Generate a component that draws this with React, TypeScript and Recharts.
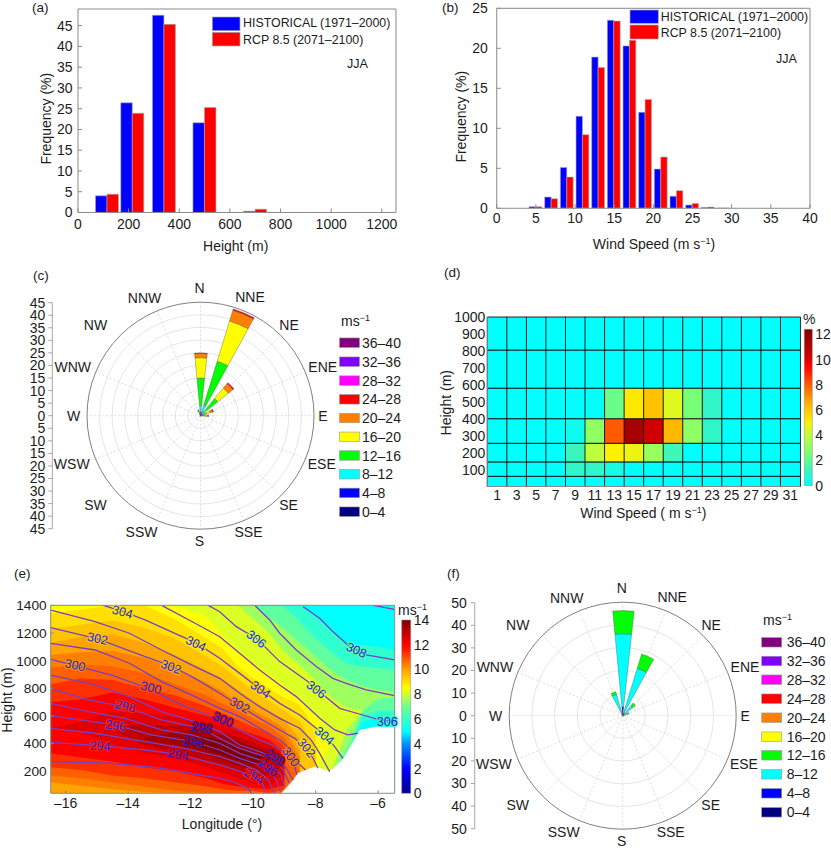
import React from 'react';
import {
  Area, Bar, BarChart, Cell, ComposedChart, Line, PolarAngleAxis, PolarGrid, PolarRadiusAxis,
  RadialBar, RadialBarChart, ReferenceDot, XAxis, YAxis,
} from 'recharts';

const W = 831;
const H = 848;
const FONT = '"Liberation Sans", Arial, sans-serif';
const INK = '#1c1c1c';
const FRAME = '#8a8a8a';
const THIN = 0.01;

// (a) height histogram
const HEIGHT_BINS = [115, 215, 340, 500, 700];
const HEIGHT_HIST = [4.0, 26.4, 47.5, 21.6, 0.3];
const HEIGHT_RCP = [4.4, 23.9, 45.3, 25.3, 0.8];

// (b) wind speed histogram
const SPEED_BINS = [5, 7, 9, 11, 13, 15, 17, 19, 21, 23, 25, 27, 29];
const SPEED_HIST = [0.2, 1.4, 5.1, 11.5, 18.9, 23.5, 20.3, 12.0, 4.9, 1.5, 0.4, 0.1, 0.03];
const SPEED_RCP = [0.2, 1.2, 3.9, 9.2, 17.6, 23.4, 21.0, 13.6, 6.4, 2.2, 0.6, 0.15, 0.03];

// wind roses
const DIRS = ['N', 'NNE', 'NE', 'ENE', 'E', 'ESE', 'SE', 'SSE', 'S', 'SSW', 'SW', 'WSW', 'W', 'WNW', 'NW', 'NNW'];
const DIR_NUDGE_X = [-1, 0.5, -2, 4, -5.5, 3, -2.5, -1, -1, -10, -14.5, -10.5, 1, -9.5, -14.5, -7];
const DIR_NUDGE_Y = [0, 0, 0, 0, 0, -1, -1, -2, -3, -2, -1, -1, 0, 0, 0, 1];
const BIN_COLORS = ['#000080', '#0000ff', '#00ffff', '#00ff00', '#ffff00', '#ff8000', '#ff0000', '#ff00ff', '#8000ff', '#800080'];
const BIN_NAMES = ['0–4', '4–8', '8–12', '12–16', '16–20', '20–24', '24–28', '28–32', '32–36', '36–40'];

const ROSE_C_0 = [0.5, 0.5, 0.3, 0.2, 0.2, 0, 0, 0, 0, 0, 0, 0, 0, 0, 0, 0.2];
const ROSE_C_1 = [1, 1, 0.5, 0.3, 0.2, 0, 0, 0, 0, 0, 0, 0, 0, 0, 0, 0.3];
const ROSE_C_2 = [2.5, 3, 1, 0.6, 0.4, 0, 0, 0, 0, 0, 0, 0, 0, 0, 0, 0.5];
const ROSE_C_3 = [10.9, 18.1, 7, 1.3, 0.8, 0, 0, 0, 0, 0, 0, 0, 0, 0, 0, 0.9];
const ROSE_C_4 = [8.1, 16.7, 5.4, 1.7, 1, 0, 0, 0, 0, 0, 0, 0, 0, 0, 0, 0.4];
const ROSE_C_5 = [1.7, 4.4, 2.3, 1, 0.6, 0, 0, 0, 0, 0, 0, 0, 0, 0, 0, 0];
const ROSE_C_6 = [0.2, 0.6, 0.5, 0.3, 0, 0, 0, 0, 0, 0, 0, 0, 0, 0, 0, 0];

const ROSE_F_0 = [0.8, 0.5, 0.3, 0.3, 0, 0, 0, 0, 0, 0, 0, 0, 0, 0, 0, 0.3];
const ROSE_F_1 = [3.2, 0.8, 0.5, 0.5, 0, 0, 0, 0, 0, 0, 0, 0, 0, 0, 0, 0.7];
const ROSE_F_2 = [32.1, 20.5, 4.8, 1.5, 0, 0, 0, 0, 0, 0, 0, 0, 0, 0, 0, 8.8];
const ROSE_F_3 = [10.2, 6.6, 1.6, 0.7, 0, 0, 0, 0, 0, 0, 0, 0, 0, 0, 0, 1.2];

// (d) heat map: row thickness in metres, bottom row first, and % per speed bin
const HEAT_SPEEDS = [1, 3, 5, 7, 9, 11, 13, 15, 17, 19, 21, 23, 25, 27, 29, 31];
const HEAT_THICK = [60, 85, 110, 145, 180, 225, 195];
const HEAT_R0 = [0, 0, 0, 0, 0, 0, 0, 0, 0, 0, 0, 0, 0, 0, 0, 0];
const HEAT_R1 = [0, 0, 0, 0, 1, 1, 0.5, 0, 0, 0, 0, 0, 0, 0, 0, 0];
const HEAT_R2 = [0, 0, 0, 0, 1.2, 4, 5, 4.7, 3.2, 1.3, 0, 0, 0, 0, 0, 0];
const HEAT_R3 = [0, 0, 0, 0, 0.3, 3, 8, 11.3, 10.2, 6.4, 3, 1, 0, 0, 0, 0];
const HEAT_R4 = [0, 0, 0, 0, 0, 0.1, 2.2, 5.2, 6.2, 4.5, 2.5, 1, 0, 0, 0, 0];
const HEAT_R5 = [0, 0, 0, 0, 0, 0, 0, 0, 0, 0, 0, 0, 0, 0, 0, 0];
const HEAT_R6 = [0, 0, 0, 0, 0, 0, 0, 0, 0, 0, 0, 0, 0, 0, 0, 0];
const HEAT_ROWS = [HEAT_R0, HEAT_R1, HEAT_R2, HEAT_R3, HEAT_R4, HEAT_R5, HEAT_R6];
const HEAT_STOPS: [number, number[]][] = [
  [0, [0, 255, 255]], [1, [48, 245, 200]], [2.5, [120, 255, 120]], [4, [190, 255, 60]], [5, [255, 240, 0]],
  [6.3, [255, 190, 0]], [8, [255, 90, 0]], [9.5, [255, 0, 0]], [10.2, [208, 0, 0]], [12.4, [128, 0, 0]],
];

// (e) filled wind speed bands, [low, high] height at each longitude
const LON = [-16.48, -15.5, -14.5, -13.5, -12.5, -11.5, -11, -10.5, -10, -9.5, -9, -8.5, -8, -7.5, -7, -6.5, -6, -5.47];
const N = null;
const BASE_LO = [41, 41, 41, 41, 41, 41, 41, 41, 41, 41, 41, 41, 41, 41, 41, 41, 41, 41];
const BASE_HI = [1400, 1400, 1400, 1400, 1400, 1400, 1400, 1400, 1400, 1400, 1400, 1400, 1400, 1400, 1400, 1400, 1400, 1400];
const S60_HI = [1400, 1400, 1400, 1400, 1400, 1400, 1400, 1400, 1400, 1400, 1400, 1400, 1320, 1210, 1120, 1110, 1100, 1075];
const S60_LO = [41, 41, 41, 41, 41, 41, 41, 41, 41, 41, 41, 41, 41, 41, 270, 560, 585, 585];
const S70_HI = [1400, 1400, 1400, 1400, 1400, 1400, 1400, 1400, 1400, 1400, 1390, 1280, 1160, 1060, 975, 955, 945, 930];
const S70_LO = [41, 41, 41, 41, 41, 41, 41, 41, 41, 41, 41, 41, 41, 41, 310, 600, 640, 640];
const S77_HI = [1400, 1400, 1400, 1400, 1400, 1400, 1400, 1400, 1400, 1310, 1230, 1130, 1030, 930, 860, 815, 790, 775];
const S77_LO = [41, 41, 41, 41, 41, 41, 41, 41, 41, 41, 41, 41, 41, 180, 370, 640, 720, 735];
const S85_HI = [1400, 1400, 1400, 1400, 1400, 1400, 1400, 1400, 1300, 1200, 1060, 965, 860, 730, 660, 640, N, N];
const S85_LO = [41, 41, 41, 41, 41, 41, 41, 41, 41, 41, 41, 41, 41, 200, 500, 640, N, N];
const S90_HI = [1400, 1400, 1400, 1400, 1400, 1320, 1190, 1080, 990, 900, 820, 730, 620, 430, N, N, N, N];
const S90_LO = [41, 41, 41, 41, 41, 41, 41, 41, 41, 41, 41, 41, 200, 400, N, N, N, N];
const S95_HI = [1340, 1370, 1400, 1400, 1300, 1160, 1090, 960, 870, 800, 730, 680, 500, N, N, N, N, N];
const S95_LO = [41, 41, 41, 41, 41, 41, 41, 41, 41, 41, 41, 41, 230, N, N, N, N, N];
const S100_HI = [1230, 1260, 1290, 1240, 1160, 1030, 960, 870, 780, 710, 640, 560, 350, N, N, N, N, N];
const S100_LO = [41, 41, 41, 41, 41, 41, 41, 41, 41, 41, 41, 41, 240, N, N, N, N, N];
const S105_HI = [1130, 1170, 1190, 1130, 1040, 930, 870, 790, 710, 640, 570, 430, N, N, N, N, N, N];
const S105_LO = [41, 41, 41, 41, 41, 41, 41, 41, 41, 41, 41, 190, N, N, N, N, N, N];
const S110_HI = [1040, 1060, 1070, 1020, 940, 840, 780, 700, 640, 580, 510, 300, N, N, N, N, N, N];
const S110_LO = [120, 95, 70, 50, 41, 41, 41, 41, 41, 41, 41, 180, N, N, N, N, N, N];
const S115_HI = [950, 970, 960, 910, 830, 750, 690, 640, 580, 530, 440, 200, N, N, N, N, N, N];
const S115_LO = [170, 150, 120, 90, 60, 41, 41, 41, 41, 41, 41, 190, N, N, N, N, N, N];
const S120_HI = [830, 870, 860, 800, 750, 670, 620, 570, 520, 480, 380, N, N, N, N, N, N, N];
const S120_LO = [230, 210, 170, 150, 120, 90, 70, 60, 60, 41, 70, N, N, N, N, N, N, N];
const S123_HI = [700, 720, 770, 720, 660, 600, 570, 510, 470, 430, 340, N, N, N, N, N, N, N];
const S123_LO = [330, 300, 270, 230, 200, 150, 110, 90, 80, 70, 100, N, N, N, N, N, N, N];
const S125_HI = [510, 560, 630, 620, 590, 560, 530, 490, 440, 400, 310, N, N, N, N, N, N, N];
const S125_LO = [510, 480, 400, 330, 300, 230, 190, 150, 110, 90, 180, N, N, N, N, N, N, N];
const S130_HI = [N, N, 520, 540, 530, 520, 480, 450, 410, 360, 280, N, N, N, N, N, N, N];
const S130_LO = [N, N, 500, 390, 340, 280, 240, 200, 170, 170, 250, N, N, N, N, N, N, N];
const S135_HI = [N, N, N, 440, 490, 480, 460, 420, 380, 330, N, N, N, N, N, N, N, N];
const S135_LO = [N, N, N, 430, 390, 320, 280, 240, 210, 220, N, N, N, N, N, N, N, N];
const S140_HI = [N, N, N, N, 440, 450, 420, 380, 340, 290, N, N, N, N, N, N, N, N];
const S140_LO = [N, N, N, N, 430, 360, 320, 280, 250, 280, N, N, N, N, N, N, N, N];
const BAND_COLORS = ['#00ffff', '#30ffd0', '#60ffa0', '#a0ff60', '#dcff24', '#ffff00', '#ffe000', '#ffc400', '#ffa400', '#ff8000', '#ff6000', '#ff3000', '#ff0000', '#e00000', '#c00000', '#a00000', '#800000'];
const BAND_LO = [BASE_LO, S60_LO, S70_LO, S77_LO, S85_LO, S90_LO, S95_LO, S100_LO, S105_LO, S110_LO, S115_LO, S120_LO, S123_LO, S125_LO, S130_LO, S135_LO, S140_LO];
const BAND_HI = [BASE_HI, S60_HI, S70_HI, S77_HI, S85_HI, S90_HI, S95_HI, S100_HI, S105_HI, S110_HI, S115_HI, S120_HI, S123_HI, S125_HI, S130_HI, S135_HI, S140_HI];

// terrain mask
const TERRAIN_LON = [-9.09, -8.72, -8.58, -8.03, -7.55, -7.12, -6.59, -6.05, -5.47];
const TERRAIN_H = [45, 137, 186, 234, 198, 289, 499, 523, 516];

// (e) potential temperature contours
const TH293_LON = [-16.48, -14.53, -12.93, -11.07, -10.64, -10.16, -10.06];
const TH293_H = [270, 258, 222, 149, 125, 77, 41];
const TH294_LON = [-16.48, -14.9, -13.46, -12.4, -11.07, -10.54, -9.95, -9.68, -9.58];
const TH294_H = [409, 385, 354, 323, 246, 210, 161, 101, 41];
const TH295_LON = [-16.48, -15.06, -13.46, -12.18, -11.07, -10.43, -9.9, -9.52, -9.31];
const TH295_H = [511, 475, 414, 366, 306, 258, 210, 137, 41];
const TH296_LON = [-16.48, -14.42, -13.25, -11.92, -11.07, -10.43, -9.79, -9.52, -9.26, -9.12];
const TH296_H = [602, 535, 463, 414, 354, 294, 246, 210, 137, 53];
const TH297_LON = [-16.48, -15.28, -14.1, -12.93, -11.97, -11.07, -10.43, -9.79, -9.36, -9.1, -8.99];
const TH297_H = [691, 631, 583, 499, 463, 402, 330, 282, 234, 173, 89];
const TH298_LON = [-16.48, -15.28, -14.1, -12.93, -11.65, -11.07, -10.43, -9.79, -9.31, -9.04, -8.85];
const TH298_H = [800, 716, 667, 571, 511, 438, 366, 318, 282, 210, 118];
const TH299_LON = [-16.48, -15.06, -13.96, -12.93, -11.86, -11.07, -10.43, -9.79, -9.26, -8.94, -8.72];
const TH299_H = [896, 824, 740, 631, 559, 487, 390, 342, 294, 222, 137];
const TH300_LON = [-16.48, -15.7, -14.53, -13.46, -12.4, -11.07, -10.43, -9.79, -9.26, -8.88, -8.67, -8.6];
const TH300_H = [1010, 964, 896, 807, 691, 571, 499, 426, 378, 306, 234, 173];
const TH301_LON = [-16.48, -15.06, -13.96, -12.93, -11.86, -11.07, -10.43, -9.79, -9.15, -8.78, -8.56, -8.32];
const TH301_H = [1125, 1077, 981, 848, 740, 655, 595, 511, 426, 354, 258, 210];
const TH302_LON = [-16.48, -14.98, -13.46, -12.61, -11.86, -11.07, -10.43, -9.79, -9.15, -8.67, -8.3, -8.08, -7.93];
const TH302_H = [1239, 1157, 1029, 961, 872, 764, 672, 583, 499, 438, 366, 294, 222];
const TH303_LON = [-16.48, -15.06, -13.96, -12.93, -11.86, -11.07, -10.43, -9.79, -9.15, -8.51, -8.14, -7.87, -7.55];
const TH303_H = [1366, 1282, 1198, 1077, 957, 872, 764, 667, 583, 511, 426, 330, 197];
const TH304_LON = [-14.8, -14.16, -13.46, -12.4, -11.84, -11.07, -10.43, -9.77, -9.15, -8.51, -7.98, -7.71, -7.39, -7.13];
const TH304_H = [1400, 1354, 1294, 1186, 1130, 1017, 908, 793, 691, 607, 511, 463, 378, 294];
const TH305_LON = [-12.93, -11.86, -11.07, -10.43, -9.79, -9.15, -8.62, -7.87, -7.39, -6.97, -6.65];
const TH305_H = [1400, 1270, 1173, 1053, 932, 824, 740, 583, 499, 463, 475];
const TH306_LON = [-11.44, -11.07, -10.54, -9.9, -9.15, -8.24, -7.98, -7.66, -7.23, -6.49, -5.95, -5.47];
const TH306_H = [1400, 1354, 1246, 1161, 993, 848, 793, 735, 655, 607, 571, 559];
const TH307_LON = [-9.95, -9.47, -9.15, -8.62, -7.98, -7.45, -7.02, -6.38, -5.47];
const TH307_H = [1400, 1294, 1198, 1077, 957, 872, 836, 788, 747];
const TH308_LON = [-8.4, -7.87, -7.45, -6.97, -6.68, -6.38, -5.47];
const TH308_H = [1390, 1306, 1210, 1113, 1077, 1041, 1005];
const TH309_LON = [-6.17, -5.47];
const TH309_H = [1400, 1371];
const TH_LONS = [TH293_LON, TH294_LON, TH295_LON, TH296_LON, TH297_LON, TH298_LON, TH299_LON, TH300_LON, TH301_LON, TH302_LON, TH303_LON, TH304_LON, TH305_LON, TH306_LON, TH307_LON, TH308_LON, TH309_LON];
const TH_HS = [TH293_H, TH294_H, TH295_H, TH296_H, TH297_H, TH298_H, TH299_H, TH300_H, TH301_H, TH302_H, TH303_H, TH304_H, TH305_H, TH306_H, TH307_H, TH308_H, TH309_H];

// (e) contour labels
const CL_TEXT = ['304', '304', '304', '304', '306', '306', '306', '308', '302', '302', '302', '302', '300', '300', '300', '300', '298', '298', '298', '296', '296', '296', '294', '294', '294'];
const CL_LON = [-14.18, -11.83, -9.76, -7.71, -9.89, -7.97, -5.71, -6.69, -14.98, -12.63, -10.43, -8.29, -15.7, -13.27, -10.96, -8.79, -14.09, -11.65, -9.3, -14.4, -11.92, -9.52, -14.9, -12.4, -9.97];
const CL_H = [1354, 1125, 793, 458, 1157, 793, 559, 1077, 1161, 957, 679, 371, 969, 805, 576, 306, 672, 516, 301, 532, 414, 229, 385, 323, 166];
const CL_ROT = [15, 25, 35, 40, 38, 38, 0, 25, 12, 20, 28, 50, 13, 15, 25, 55, 12, 10, 35, 8, 10, 35, 3, 12, 30];
const CL_BG = ['#ffe600', '#ffee00', '#ffd000', '#c8ff30', '#c8ff30', '#c8ff30', '#40f0c0', '#60ffa0', '#ffc800', '#ffb400', '#ff8800', '#ffe000', '#ff9000', '#ff5000', '#d00000', '#ff8000', '#ff2a00', '#900000', '#b00000', '#ff2000', '#900000', '#e00000', '#ff2000', '#e00000', '#ff2000'];

// colour bars
const EBAR_VALUES = [0, 2, 4, 5, 7, 8.5, 10, 11.5, 12, 14];
const EBAR_COLORS = ['#000090', '#0000ff', '#0090ff', '#00ffff', '#70ff90', '#ffff00', '#ffa000', '#ff2000', '#ff0000', '#800000'];

const heightRows = HEIGHT_BINS.map((x, i) => ({ x, hist: HEIGHT_HIST[i], rcp: HEIGHT_RCP[i] }));
const speedRows = SPEED_BINS.map((x, i) => ({ x, hist: SPEED_HIST[i], rcp: SPEED_RCP[i] }));
const roseC = DIRS.map((dir, i) => ({ dir, b0: ROSE_C_0[i], b1: ROSE_C_1[i], b2: ROSE_C_2[i], b3: ROSE_C_3[i], b4: ROSE_C_4[i], b5: ROSE_C_5[i], b6: ROSE_C_6[i] }));
const roseF = DIRS.map((dir, i) => ({ dir, b0: ROSE_F_0[i], b1: ROSE_F_1[i], b2: ROSE_F_2[i], b3: ROSE_F_3[i] }));
const heatRows = HEAT_SPEEDS.map((s) => {
  const row: Record<string, number> = { s };
  HEAT_THICK.forEach((t, k) => { row['r' + k] = t; });
  return row;
});
const bandRows = LON.map((lon, i) => {
  const row: Record<string, unknown> = { lon };
  BAND_LO.forEach((lo, k) => {
    row['b' + k] = lo[i] === null || BAND_HI[k][i] === null ? null : [lo[i], BAND_HI[k][i]];
  });
  return row;
});
const terrainRows = TERRAIN_LON.map((lon, i) => ({ lon, t: [41, TERRAIN_H[i]] }));

function heatColor(v: number) {
  for (let i = 1; i < HEAT_STOPS.length; i++) {
    if (v <= HEAT_STOPS[i][0]) {
      const [a, ca] = HEAT_STOPS[i - 1];
      const [b, cb] = HEAT_STOPS[i];
      const t = (v - a) / (b - a);
      return `rgb(${ca.map((c, k) => Math.round(c + (cb[k] - c) * t)).join(',')})`;
    }
  }
  return 'rgb(128,0,0)';
}

const Txt = ({ x, y, size = 14, rot, anchor = 'start', children }: any) => (
  <text x={x} y={y} fontSize={size} fontFamily={FONT} fill={INK} textAnchor={anchor} transform={rot ? `rotate(${rot} ${x} ${y})` : undefined}>
    {children}
  </text>
);
const Unit = () => (
  <>
    <tspan>ms</tspan>
    <tspan dy={-5} fontSize={9}>−1</tspan>
  </>
);
const layer: React.CSSProperties = { position: 'absolute', left: 0, top: 0 };
const box = (l: number, t: number, r: number, b: number) => ({ left: l, top: t, right: W - r, bottom: H - b });
const tickStyle = (size = 14) => ({ fontSize: size, fontFamily: FONT, fill: INK });
const lineStyle = { stroke: FRAME, strokeWidth: 1 };
const lightLine = { stroke: '#a6a6a6', strokeWidth: 1 };

function frame(xDomain: number[], yDomain: number[], xMinor: number[], yMinor: number[], majorY: number[], majorX: number[]) {
  return [
    <XAxis key="xm" xAxisId="xm" type="number" domain={xDomain} allowDataOverflow ticks={xMinor} interval={0} height={THIN} tick={false} tickSize={-2} tickLine={lineStyle} axisLine={false} />,
    <XAxis key="xt" xAxisId="xt" orientation="top" type="number" domain={xDomain} allowDataOverflow ticks={majorX} interval={0} height={THIN} tick={false} tickSize={-4} tickLine={lineStyle} axisLine={lineStyle} />,
    <YAxis key="ym" yAxisId="ym" type="number" domain={yDomain} allowDataOverflow ticks={yMinor} interval={0} width={THIN} tick={false} tickSize={-2} tickLine={lineStyle} axisLine={false} />,
    <YAxis key="yr" yAxisId="yr" orientation="right" type="number" domain={yDomain} allowDataOverflow ticks={majorY} interval={0} width={THIN} tick={false} tickSize={-4} tickLine={lineStyle} axisLine={lineStyle} />,
    <YAxis key="yrm" yAxisId="yrm" orientation="right" type="number" domain={yDomain} allowDataOverflow ticks={yMinor} interval={0} width={THIN} tick={false} tickSize={-2} tickLine={lineStyle} axisLine={false} />,
  ];
}

function BarLegend({ left, top1, top2, h1, h2, right, base1, base2, textX }: any) {
  return (
    <>
      <rect x={left} y={top1} width={right - left} height={h1} fill="#0000ff" stroke="#aaa" strokeWidth={0.7} />
      <rect x={left} y={top2} width={right - left} height={h2} fill="#ff0000" stroke="#aaa" strokeWidth={0.7} />
      <Txt x={textX} y={base1} size={12.4}>HISTORICAL (1971–2000)</Txt>
      <Txt x={textX} y={base2} size={12.4}>RCP 8.5 (2071–2100)</Txt>
    </>
  );
}

const A_MAJOR_Y = [0, 5, 10, 15, 20, 25, 30, 35, 40, 45];
const A_MINOR_Y = [2.5, 7.5, 12.5, 17.5, 22.5, 27.5, 32.5, 37.5, 42.5, 47.5];
const A_MAJOR_X = [0, 200, 400, 600, 800, 1000, 1200];
const A_MINOR_X = [100, 300, 500, 700, 900, 1100];
const B_MAJOR_Y = [0, 5, 10, 15, 20, 25];
const B_MINOR_Y = [2.5, 7.5, 12.5, 17.5, 22.5];
const B_MAJOR_X = [0, 5, 10, 15, 20, 25, 30, 35, 40];
const B_MINOR_X = [2.5, 7.5, 12.5, 17.5, 22.5, 27.5, 32.5, 37.5];

function PanelA() {
  const xd = [0, 1256];
  const yd = [0, 49];
  return (
    <div style={layer}>
      <ComposedChart width={W} height={H} data={heightRows} margin={box(78, 9, 396, 212.5)} barGap={0}>
        <XAxis dataKey="x" type="number" domain={xd} allowDataOverflow ticks={A_MAJOR_X} interval={0} height={THIN} tick={tickStyle()} tickSize={-4} tickMargin={10.5} tickLine={lineStyle} axisLine={lineStyle} />
        <YAxis type="number" domain={yd} allowDataOverflow ticks={A_MAJOR_Y} interval={0} width={THIN} tick={tickStyle()} tickSize={-4} tickMargin={9.5} tickLine={lineStyle} axisLine={lineStyle} />
        {frame(xd, yd, A_MINOR_X, A_MINOR_Y, A_MAJOR_Y, A_MAJOR_X)}
        <Bar dataKey="hist" fill="#0000ff" stroke="#aaa" strokeWidth={0.6} barSize={11.5} isAnimationActive={false} />
        <Bar dataKey="rcp" fill="#ff0000" stroke="#aaa" strokeWidth={0.6} barSize={11.5} isAnimationActive={false} />
        <BarLegend left={212.3} right={240} top1={17} h1={13.7} top2={32.3} h2={13.7} base1={27} base2={43.5} textX={243} />
        <Txt x={347} y={68} size={12.6}>JJA</Txt>
        <Txt x={32} y={12} size={13.5}>(a)</Txt>
        <Txt x={235.7} y={251} anchor="middle">Height (m)</Txt>
        <Txt x={51.5} y={118.7} anchor="middle" rot={-90}>Frequency (%)</Txt>
      </ComposedChart>
    </div>
  );
}

function PanelB() {
  const xd = [0, 40];
  const yd = [0, 25];
  return (
    <div style={layer}>
      <ComposedChart width={W} height={H} data={speedRows} margin={box(496.7, 8.3, 810, 208.3)} barGap={0}>
        <XAxis dataKey="x" type="number" domain={xd} allowDataOverflow ticks={B_MAJOR_X} interval={0} height={THIN} tick={tickStyle()} tickSize={-4} tickMargin={9} tickLine={lineStyle} axisLine={lineStyle} />
        <YAxis type="number" domain={yd} allowDataOverflow ticks={B_MAJOR_Y} interval={0} width={THIN} tick={tickStyle()} tickSize={-4} tickMargin={13} tickLine={lineStyle} axisLine={lineStyle} />
        {frame(xd, yd, B_MINOR_X, B_MINOR_Y, B_MAJOR_Y, B_MAJOR_X)}
        <Bar dataKey="hist" fill="#0000ff" stroke="#aaa" strokeWidth={0.6} barSize={6.4} isAnimationActive={false} />
        <Bar dataKey="rcp" fill="#ff0000" stroke="#aaa" strokeWidth={0.6} barSize={6.4} isAnimationActive={false} />
        <BarLegend left={630} right={658.3} top1={10} h1={13.3} top2={25} h2={14} base1={20.5} base2={36.5} textX={660.7} />
        <Txt x={776} y={63} size={12.6}>JJA</Txt>
        <Txt x={442} y={12} size={13.5}>(b)</Txt>
        <Txt x={654} y={249} anchor="middle">Wind Speed (m s<tspan dy={-5} fontSize={9}>−1</tspan><tspan dy={5}>)</tspan></Txt>
        <Txt x={466.5} y={116.7} anchor="middle" rot={-90}>Frequency (%)</Txt>
      </ComposedChart>
    </div>
  );
}

const SPOKES = [0, 22.5, 45, 67.5, 90, 112.5, 135, 157.5, 180, 202.5, 225, 247.5, 270, 292.5, 315, 337.5];

function Rose({ data, bins, cx, cy, R, max, rings }: any) {
  const ringRadii = rings.map((v: number) => (v / max) * R);
  const compassTick = (props: any) => {
    const i = DIRS.indexOf(props.payload.value);
    const a = (i * 22.5 * Math.PI) / 180;
    return (
      <text x={cx + (R + 14.5) * Math.sin(a) + DIR_NUDGE_X[i]} y={cy - (R + 14.5) * Math.cos(a) + DIR_NUDGE_Y[i]} dy={5} textAnchor="middle" fontSize={14} fontFamily={FONT} fill={INK}>
        {props.payload.value}
      </text>
    );
  };
  return (
    <div style={layer}>
      <RadialBarChart width={W} height={H} data={data} layout="centric" cx={cx} cy={cy} innerRadius={0} outerRadius={R} startAngle={78.75} endAngle={-281.25} barGap={0}>
        <PolarGrid gridType="circle" polarRadius={ringRadii} polarAngles={[]} radialLines={false} stroke="#dedede" strokeWidth={0.8} />
        <PolarGrid gridType="circle" polarRadius={[]} polarAngles={SPOKES} stroke="#d4d4d4" strokeWidth={0.8} strokeDasharray="2 2" />
        <PolarGrid gridType="circle" polarRadius={[R]} polarAngles={[]} radialLines={false} stroke="#808080" strokeWidth={1} />
        <PolarAngleAxis dataKey="dir" type="category" tick={compassTick} tickLine={false} axisLine={false} tickSize={14} interval={0} />
        <PolarRadiusAxis type="number" domain={[0, max]} tick={false} axisLine={false} tickLine={false} />
        {bins.map((k: number) => (
          <RadialBar key={k} dataKey={'b' + k} stackId="rose" barSize={11.7} fill={BIN_COLORS[k]} stroke="#555" strokeWidth={0.4} isAnimationActive={false} />
        ))}
      </RadialBarChart>
    </div>
  );
}

function RoseAxis({ x, top, bottom, max, major, minor, tickMargin }: any) {
  const fmt = (v: number) => String(Math.abs(v));
  return (
    <div style={layer}>
      <ComposedChart width={W} height={H} data={[{ x: 0, v: 0 }]} margin={box(x, top, x + 10, bottom)}>
        <XAxis dataKey="x" hide />
        <YAxis type="number" domain={[-max, max]} allowDataOverflow ticks={major} interval={0} width={THIN} tick={tickStyle()} tickFormatter={fmt} tickSize={4} tickMargin={tickMargin} tickLine={lightLine} axisLine={lightLine} />
        <YAxis yAxisId="m" type="number" domain={[-max, max]} allowDataOverflow ticks={minor} interval={0} width={THIN} tick={false} tickSize={2} tickLine={lightLine} axisLine={false} />
        <Line dataKey="v" stroke="none" dot={false} activeDot={false} legendType="none" isAnimationActive={false} />
        <Line dataKey="v" yAxisId="m" stroke="none" dot={false} activeDot={false} legendType="none" isAnimationActive={false} />
      </ComposedChart>
    </div>
  );
}

function BinLegend({ x, textX, ys, h }: any) {
  return (
    <>
      {BIN_NAMES.map((name, i) => (
        <g key={name}>
          <rect x={x} y={ys[i] - h / 2} width={20} height={h} fill={BIN_COLORS[i]} stroke="#999" strokeWidth={0.6} />
          <Txt x={textX} y={ys[i] + 5}>{name}</Txt>
        </g>
      ))}
    </>
  );
}

const C_MAJOR = [-45, -40, -35, -30, -25, -20, -15, -10, -5, 0, 5, 10, 15, 20, 25, 30, 35, 40, 45];
const F_MAJOR = [-50, -40, -30, -20, -10, 0, 10, 20, 30, 40, 50];
const F_MINOR = [-45, -35, -25, -15, -5, 5, 15, 25, 35, 45];
const C_RINGS = [5, 10, 15, 20, 25, 30, 35, 40];
const F_RINGS = [10, 20, 30, 40];
const C_LEG_Y = [511.7, 492.9, 474.2, 455.5, 436.8, 418, 399.3, 380.6, 361.7, 342.7];
const F_LEG_Y = [812.3, 793.3, 774.3, 755.3, 736.7, 717.7, 698.7, 679.7, 661, 642.3];

function PanelD() {
  return (
    <div style={layer}>
      <BarChart width={W} height={H} data={heatRows} margin={box(487.3, 317, 800, 486.5)} barCategoryGap={0}>
        <XAxis dataKey="s" type="category" interval={0} height={THIN} tick={tickStyle()} tickLine={false} tickSize={0} tickMargin={4} axisLine={{ stroke: FRAME }} />
        <YAxis type="number" domain={[0, 1000]} ticks={[100, 200, 300, 400, 500, 600, 700, 800, 900, 1000]} interval={0} width={THIN} tick={tickStyle()} tickLine={false} tickSize={0} tickMargin={2} axisLine={{ stroke: FRAME }} />
        {HEAT_THICK.map((_, k) => (
          <Bar key={k} dataKey={'r' + k} stackId="heat" stroke="#111" strokeWidth={0.9} isAnimationActive={false}>
            {HEAT_SPEEDS.map((s, i) => <Cell key={s} fill={heatColor(HEAT_ROWS[k][i])} />)}
          </Bar>
        ))}
        <Txt x={444} y={277} size={13.5}>(d)</Txt>
        <Txt x={643.3} y={518} anchor="middle">Wind Speed ( m s<tspan dy={-5} fontSize={9}>−1</tspan><tspan dy={5}>)</tspan></Txt>
        <Txt x={451} y={402.7} anchor="middle" rot={-90}>Height (m)</Txt>
        <Txt x={803} y={324}>%</Txt>
      </BarChart>
    </div>
  );
}

function ColorBar({ id, left, right, top, bottom, max, ticks, stops }: any) {
  return (
    <div style={layer}>
      <BarChart width={W} height={H} data={[{ c: 'scale', v: max }]} margin={box(left, top, right, bottom)} barCategoryGap={0}>
        <defs>
          <linearGradient id={id} x1="0" y1="1" x2="0" y2="0">
            {stops.map((s: [number, string]) => <stop key={s[0]} offset={s[0] / max} stopColor={s[1]} />)}
          </linearGradient>
        </defs>
        <XAxis dataKey="c" hide />
        <YAxis orientation="right" type="number" domain={[0, max]} ticks={ticks} interval={0} width={THIN} tick={tickStyle()} tickLine={false} tickSize={0} tickMargin={3} axisLine={false} />
        <Bar dataKey="v" fill={`url(#${id})`} stroke="#888" strokeWidth={0.5} isAnimationActive={false} />
      </BarChart>
    </div>
  );
}
const D_STOPS = HEAT_STOPS.map((s) => [s[0], `rgb(${s[1].join(',')})`]);
const E_STOPS = EBAR_VALUES.map((v, i) => [v, EBAR_COLORS[i]]);

function PanelE() {
  const xd = [-16.48, -5.47];
  const yd = [41, 1400];
  const labelShape = (i: number) => (p: any) => (
    <text
      x={p.cx} y={p.cy} dy={4.5} textAnchor="middle" fontSize={12.5} fontFamily={FONT} fill="#2222dd"
      stroke={CL_BG[i]} strokeWidth={2} paintOrder="stroke" transform={`rotate(${CL_ROT[i]} ${p.cx} ${p.cy})`}
    >
      {CL_TEXT[i]}
    </text>
  );
  return (
    <div style={layer}>
      <ComposedChart width={W} height={H} data={bandRows} margin={box(50.7, 605.3, 394.7, 793.3)}>
        <XAxis dataKey="lon" type="number" domain={xd} allowDataOverflow ticks={[-16, -14, -12, -10, -8, -6]} interval={0} height={THIN} tickFormatter={(v: number) => '–' + Math.abs(v)} tick={tickStyle()} tickSize={-3} tickMargin={8} tickLine={lineStyle} axisLine={lineStyle} />
        <YAxis type="number" domain={yd} allowDataOverflow ticks={[200, 400, 600, 800, 1000, 1200, 1400]} interval={0} width={THIN} tick={tickStyle(13.7)} tickSize={-3} tickMargin={7} tickLine={lineStyle} axisLine={lineStyle} />
        <XAxis xAxisId="t" orientation="top" type="number" domain={xd} allowDataOverflow height={THIN} tick={false} tickLine={false} axisLine={lineStyle} />
        <YAxis yAxisId="r" orientation="right" type="number" domain={yd} allowDataOverflow width={THIN} tick={false} tickLine={false} axisLine={lineStyle} />
        {BAND_COLORS.map((c, k) => (
          <Area key={k} dataKey={'b' + k} type="linear" fill={c} fillOpacity={1} stroke="none" dot={false} activeDot={false} isAnimationActive={false} />
        ))}
        <Area data={terrainRows} dataKey="t" type="linear" fill="#ffffff" fillOpacity={1} stroke="none" dot={false} activeDot={false} isAnimationActive={false} />
        {TH_LONS.map((lons, k) => (
          <Line key={k} data={lons.map((lon, i) => ({ lon, th: TH_HS[k][i] }))} dataKey="th" type="linear" stroke="#7a3fc4" strokeWidth={1.3} dot={false} activeDot={false} isAnimationActive={false} />
        ))}
        {CL_TEXT.map((_, i) => (
          <ReferenceDot key={i} x={CL_LON[i]} y={CL_H[i]} r={0} ifOverflow="visible" shape={labelShape(i)} />
        ))}
        <Txt x={14} y={578} size={13.5}>(e)</Txt>
        <Txt x={222} y={829} anchor="middle">Longitude (°)</Txt>
        <Txt x={11.5} y={700} anchor="middle" rot={-90}>Height (m)</Txt>
        <Txt x={398} y={615}><Unit /></Txt>
      </ComposedChart>
    </div>
  );
}

function Overlay() {
  return (
    <div style={layer}>
      <svg width={W} height={H}>
        <Txt x={33} y={280} size={13.5}>(c)</Txt>
        <Txt x={341} y={326}><Unit /></Txt>
        <BinLegend x={339.5} textX={362} ys={C_LEG_Y} h={9.5} />
        <Txt x={447} y={578} size={13.5}>(f)</Txt>
        <Txt x={763} y={625}><Unit /></Txt>
        <BinLegend x={761.7} textX={786.7} ys={F_LEG_Y} h={9.5} />
      </svg>
    </div>
  );
}

export default function App() {
  return (
    <div style={{ position: 'absolute', left: 0, top: 0, width: W, height: H, background: '#fff', fontFamily: FONT, overflow: 'hidden' }}>
      <PanelA />
      <PanelB />
      <RoseAxis x={52.3} top={302.7} bottom={528.7} max={45} major={C_MAJOR} minor={[]} tickMargin={3} />
      <Rose data={roseC} bins={[0, 1, 2, 3, 4, 5, 6]} cx={200.5} cy={415.7} R={113.5} max={45} rings={C_RINGS} />
      <PanelD />
      <ColorBar id="dbar" left={804.3} right={812.3} top={329.3} bottom={485.7} max={12.4} ticks={[0, 2, 4, 6, 8, 10, 12]} stops={D_STOPS} />
      <PanelE />
      <ColorBar id="ebar" left={401.7} right={410.7} top={620} bottom={793.3} max={14} ticks={[0, 2, 4, 6, 8, 10, 12, 14]} stops={E_STOPS} />
      <RoseAxis x={474.7} top={602.7} bottom={828.7} max={50} major={F_MAJOR} minor={F_MINOR} tickMargin={4} />
      <Rose data={roseF} bins={[0, 1, 2, 3]} cx={622.7} cy={715.7} R={113.5} max={50} rings={F_RINGS} />
      <Overlay />
    </div>
  );
}
